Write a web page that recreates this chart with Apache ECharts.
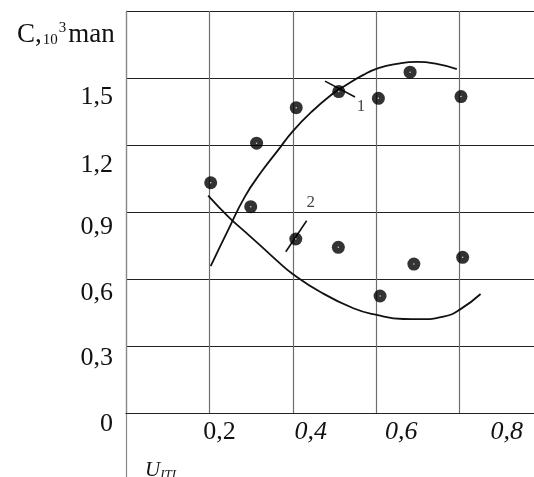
<!DOCTYPE html>
<html>
<head>
<meta charset="utf-8">
<script src="https://cdn.jsdelivr.net/npm/echarts@6/dist/echarts.min.js"></script>
<style>
  html, body { margin: 0; padding: 0; background: #fff; }
  #chart { width: 534px; height: 477px; }
</style>
</head>
<body>
<div id="chart"></div>
<script>
// Axis ticks and their printed labels
const xTicks = [0.2, 0.4, 0.6, 0.8];
const xTickLabels = ['0,2', '0,4', '0,6', '0,8'];
const yTicks = [0, 0.3, 0.6, 0.9, 1.2, 1.5];
const yTickLabels = ['0', '0,3', '0,6', '0,9', '1,2', '1,5'];

// Measured points: U (x) and C, 10^3 (y)
const pointsU = [0.203, 0.299, 0.313, 0.408, 0.510, 0.605, 0.681, 0.803, 0.407, 0.509, 0.609, 0.690, 0.807];
const pointsC = [1.031, 0.924, 1.208, 1.367, 1.439, 1.409, 1.526, 1.417, 0.779, 0.742, 0.524, 0.667, 0.697];

// Curve 1 (rising, saturating)
const curve1U = [0.203, 0.245, 0.285, 0.325, 0.365, 0.399, 0.445, 0.497, 0.521, 0.569, 0.605, 0.649, 0.697, 0.745, 0.793];
const curve1C = [0.658, 0.820, 0.969, 1.081, 1.178, 1.260, 1.349, 1.432, 1.461, 1.514, 1.544, 1.563, 1.572, 1.563, 1.540];

// Curve 2 (falling, minimum near 0.7)
const curve2U = [0.197, 0.245, 0.285, 0.325, 0.365, 0.398, 0.465, 0.545, 0.601, 0.665, 0.705, 0.761, 0.801, 0.850];
const curve2C = [0.973, 0.879, 0.812, 0.745, 0.677, 0.625, 0.543, 0.469, 0.439, 0.421, 0.420, 0.431, 0.464, 0.533];

// Leader strokes pointing at the curves, with their numbers
const leader1U = [0.477, 0.549];
const leader1C = [1.486, 1.415];
const leader2U = [0.383, 0.433];
const leader2C = [0.722, 0.861];
const curveNames = ['1', '2'];

const zip = (a, b) => a.map((v, i) => [v, b[i]]);
const findIdx = (list, v) => list.findIndex(t => Math.abs(t - v) < 1e-6);

const SERIF = '"Liberation Serif", "DejaVu Serif", serif';
const baseText = { fontFamily: SERIF, color: '#111', fontWeight: 'normal' };
const AXIS_GREY = '#888';

// per-label nudges of the printed tick values
const xLabelRich = {
  x0: Object.assign({}, baseText, { fontSize: 26, padding: [0, 0, 0, 20] }),
  x1: Object.assign({}, baseText, { fontSize: 26, fontStyle: 'italic', padding: [0, 0, 0, 36] }),
  x2: Object.assign({}, baseText, { fontSize: 26, fontStyle: 'italic', padding: [0, 0, 0, 50] }),
  x3: Object.assign({}, baseText, { fontSize: 26, fontStyle: 'italic', padding: [0, 0, 0, 94] })
};
const yShift = [11, 12, 14, 15, 20, 19];
const yLabelRich = {};
yShift.forEach((s, i) => {
  yLabelRich['y' + i] = Object.assign({}, baseText, { fontSize: 26, padding: [2 * s, 0, 0, 0] });
});

const chart = echarts.init(document.getElementById('chart'), null, { renderer: 'canvas' });

function leaderLine(u, c) {
  return {
    type: 'line',
    data: zip(u, c),
    showSymbol: false,
    lineStyle: { color: '#111', width: 1.6 },
    silent: true,
    z: 3
  };
}
function leaderNumber(u, c, name, labelPos, labelOffset, labelDist) {
  return {
    type: 'scatter',
    data: [{
      value: [u[1], c[1]],
      label: Object.assign({
        show: true,
        formatter: name,
        position: labelPos,
        distance: labelDist,
        offset: labelOffset,
        fontSize: 17
      }, baseText)
    }],
    symbol: 'circle',
    symbolSize: 1,
    itemStyle: { color: 'rgba(0,0,0,0)' },
    silent: true,
    z: 3
  };
}

chart.setOption({
  animation: false,
  backgroundColor: '#fff',
  title: [
    {
      text: '{m|C,}{s|10}{p|3}{m|man}',
      left: 12,
      top: 13,
      textStyle: {
        fontWeight: 'normal',
        rich: {
          m: Object.assign({}, baseText, { fontSize: 27, verticalAlign: 'bottom', lineHeight: 30 }),
          s: Object.assign({}, baseText, { fontSize: 15, verticalAlign: 'bottom', lineHeight: 30, padding: [0, 1, 0, 1] }),
          p: Object.assign({}, baseText, { fontSize: 15, verticalAlign: 'top', lineHeight: 30, padding: [3, 2, 0, 0] })
        }
      }
    },
    {
      text: '{u|U}{i|ITI}',
      left: 140,
      top: 452,
      textStyle: {
        fontWeight: 'normal',
        rich: {
          u: Object.assign({}, baseText, { fontSize: 21, fontStyle: 'italic', verticalAlign: 'bottom', lineHeight: 24 }),
          i: Object.assign({}, baseText, { fontSize: 13, fontStyle: 'italic', verticalAlign: 'bottom', lineHeight: 22 })
        }
      }
    }
  ],
  grid: [
    // main plot frame
    { left: 126, right: -5, top: 11, bottom: 64, containLabel: false, outerBoundsMode: 'none' },
    // strip below the abscissa where the ordinate line continues
    { left: 126, right: -5, top: 413, bottom: -3, containLabel: false, outerBoundsMode: 'none' }
  ],
  xAxis: [
    {
      type: 'value',
      gridIndex: 0,
      min: 0,
      max: 0.99,
      interval: 0.2,
      axisLine: { show: true, onZero: false, lineStyle: { color: '#222', width: 1.2 } },
      axisTick: { show: false },
      splitLine: { show: true, lineStyle: { color: '#6e6e6e', width: 1.2 } },
      axisLabel: {
        margin: 6,
        formatter: (v) => {
          const i = findIdx(xTicks, Math.round(v * 10) / 10);
          return i < 0 || Math.abs(v - xTicks[i]) > 1e-6 ? '' : '{x' + i + '|' + xTickLabels[i] + '}';
        },
        rich: xLabelRich
      }
    },
    { type: 'value', gridIndex: 1, min: 0, max: 1, show: false }
  ],
  yAxis: [
    {
      type: 'value',
      gridIndex: 0,
      min: 0,
      max: 1.8,
      interval: 0.3,
      axisLine: { show: true, onZero: false, lineStyle: { color: AXIS_GREY, width: 1.2 } },
      axisTick: { show: false },
      splitLine: { show: true, lineStyle: { color: '#222', width: 1.2 } },
      axisLabel: {
        margin: 13,
        formatter: (v) => {
          const i = findIdx(yTicks, Math.round(v * 10) / 10);
          return i < 0 || Math.abs(v - yTicks[i]) > 1e-6 ? '' : '{y' + i + '|' + yTickLabels[i] + '}';
        },
        rich: yLabelRich
      }
    },
    {
      type: 'value',
      gridIndex: 1,
      min: 0,
      max: 1,
      axisLine: { show: true, onZero: false, lineStyle: { color: AXIS_GREY, width: 1.2 } },
      axisTick: { show: false },
      axisLabel: { show: false },
      splitLine: { show: false }
    }
  ],
  series: [
    {
      type: 'line',
      data: zip(curve1U, curve1C),
      smooth: 0.5,
      showSymbol: false,
      lineStyle: { color: '#111', width: 1.8 },
      silent: true,
      z: 3
    },
    {
      type: 'line',
      data: zip(curve2U, curve2C),
      smooth: 0.5,
      showSymbol: false,
      lineStyle: { color: '#111', width: 1.8 },
      silent: true,
      z: 3
    },
    leaderLine(leader1U, leader1C),
    leaderLine(leader2U, leader2C),
    leaderNumber(leader1U, leader1C, curveNames[0], 'bottom', [6, -1], 2),
    leaderNumber(leader2U, leader2C, curveNames[1], 'top', [4, 0], 9),
    {
      type: 'scatter',
      data: zip(pointsU, pointsC),
      symbol: 'circle',
      symbolSize: 13,
      itemStyle: { color: '#000' },
      silent: true,
      z: 4
    },
    {
      type: 'scatter',
      data: zip(pointsU, pointsC),
      symbol: 'circle',
      symbolSize: 1.5,
      itemStyle: { color: '#fff' },
      silent: true,
      z: 5
    }
  ]
});
</script>
</body>
</html>
